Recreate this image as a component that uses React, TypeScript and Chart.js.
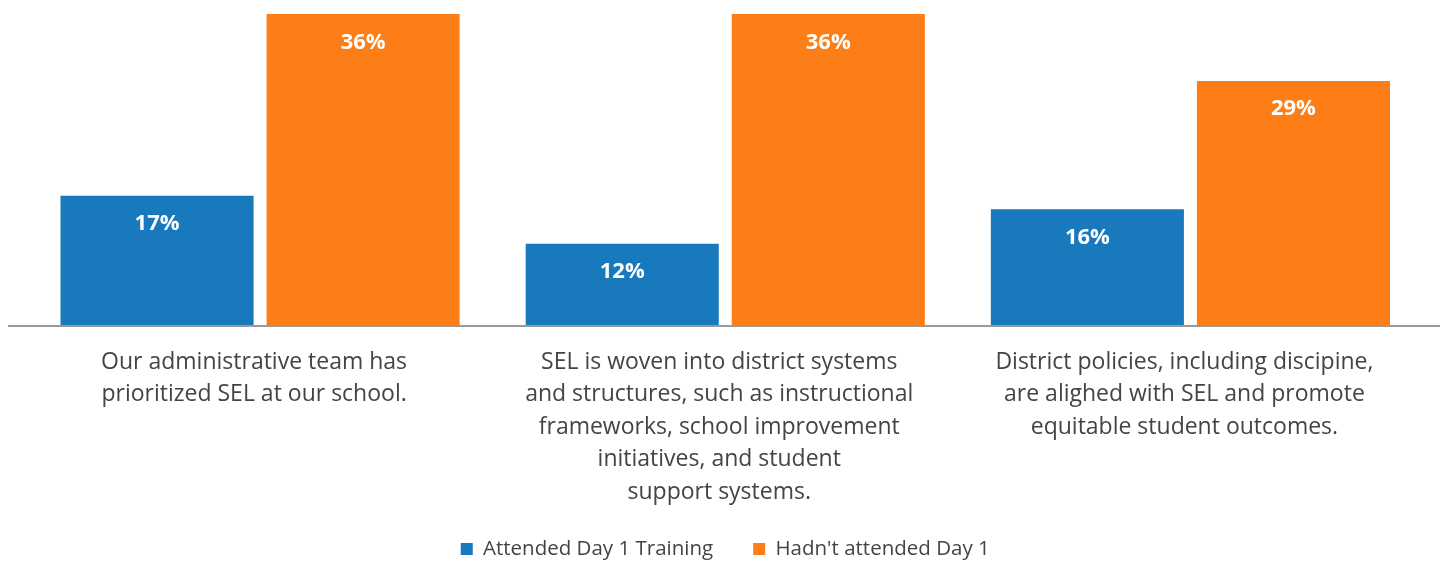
import React, { useEffect, useRef } from "react";
import { Chart, registerables } from "chart.js";

Chart.register(...registerables);

const categories: string[][] = [
  ["Our administrative team has", "prioritized SEL at our school."],
  [
    "SEL is woven into district systems",
    "and structures, such as instructional",
    "frameworks, school improvement",
    "initiatives, and student",
    "support systems.",
  ],
  [
    "District policies, including discipine,",
    "are alighed with SEL and promote",
    "equitable student outcomes.",
  ],
];
const seriesNames = ["Attended Day 1 Training", "Hadn't attended Day 1"];
const attendedValues = [17, 12, 15.6];
const notAttendedValues = [36, 36, 29];
const seriesColors = ["#1879bd", "#fd7e17"];
const yMin = 3.5;
const yMax = 36;

const FONT = "'Open Sans', sans-serif";
const TEXT_COLOR = "#444444";

const valueLabels = {
  id: "valueLabels",
  afterDatasetsDraw(chart: any) {
    const ctx = chart.ctx;
    ctx.save();
    ctx.font = `bold 22px ${FONT}`;
    ctx.fillStyle = "#ffffff";
    ctx.textAlign = "center";
    ctx.textBaseline = "alphabetic";
    chart.data.datasets.forEach((ds: any, di: number) => {
      chart.getDatasetMeta(di).data.forEach((bar: any, i: number) => {
        ctx.fillText(Math.round(ds.data[i]) + "%", bar.x, bar.y + 34.5);
      });
    });
    ctx.restore();
  },
};

const baseLine = {
  id: "baseLine",
  afterDatasetsDraw(chart: any) {
    const ctx = chart.ctx;
    const y = chart.chartArea.bottom + 1;
    ctx.save();
    ctx.strokeStyle = "#999999";
    ctx.lineWidth = 2;
    ctx.beginPath();
    ctx.moveTo(8, y);
    ctx.lineTo(1440, y);
    ctx.stroke();
    ctx.restore();
  },
};

// keep the legend row where it belongs while giving the x-axis labels room
const legendPlacer = {
  id: "legendPlacer",
  afterLayout(chart: any) {
    const lg = chart.legend;
    if (!lg) return;
    lg.top = 498.75;
    lg.bottom = chart.height;
    lg.height = lg.bottom - lg.top;
  },
};

export default function App() {
  const canvasRef = useRef<HTMLCanvasElement | null>(null);

  useEffect(() => {
    if (!canvasRef.current) return;
    const chart = new Chart(canvasRef.current, {
      type: "bar",
      data: {
        labels: categories,
        datasets: [
          {
            label: seriesNames[0],
            data: attendedValues,
            backgroundColor: seriesColors[0],
            borderWidth: 0,
          },
          {
            label: seriesNames[1],
            data: notAttendedValues,
            backgroundColor: seriesColors[1],
            borderWidth: 0,
          },
        ],
      },
      options: {
        animation: false,
        responsive: false,
        devicePixelRatio: 1,
        layout: { padding: { left: 27.5, right: 20, top: 14, bottom: 0 } },
        datasets: {
          bar: { categoryPercentage: 0.886, barPercentage: 0.937 },
        },
        scales: {
          x: {
            grid: { display: false, drawTicks: false },
            border: { display: false },
            ticks: {
              autoSkip: false,
              maxRotation: 0,
              minRotation: 0,
              padding: 21,
              labelOffset: -6,
              color: TEXT_COLOR,
              font: { family: FONT, size: 23, lineHeight: 1.413 },
            },
            afterFit: (scale: any) => {
              scale.height = 190;
            },
          },
          y: {
            display: false,
            min: yMin,
            max: yMax,
          },
        },
        plugins: {
          legend: {
            position: "bottom",
            maxHeight: 47,
            labels: {
              boxWidth: 12,
              boxHeight: 12,
              padding: 40,
              color: TEXT_COLOR,
              font: { family: FONT, size: 20.5 },
            },
          },
          tooltip: { enabled: false },
        },
      },
      plugins: [valueLabels, baseLine, legendPlacer],
    } as any);
    return () => chart.destroy();
  }, []);

  return (
    <div style={{ position: "absolute", left: 0, top: 0, width: 1443, height: 562, background: "#ffffff" }}>
      <canvas ref={canvasRef} width={1443} height={562} style={{ display: "block" }} />
    </div>
  );
}
